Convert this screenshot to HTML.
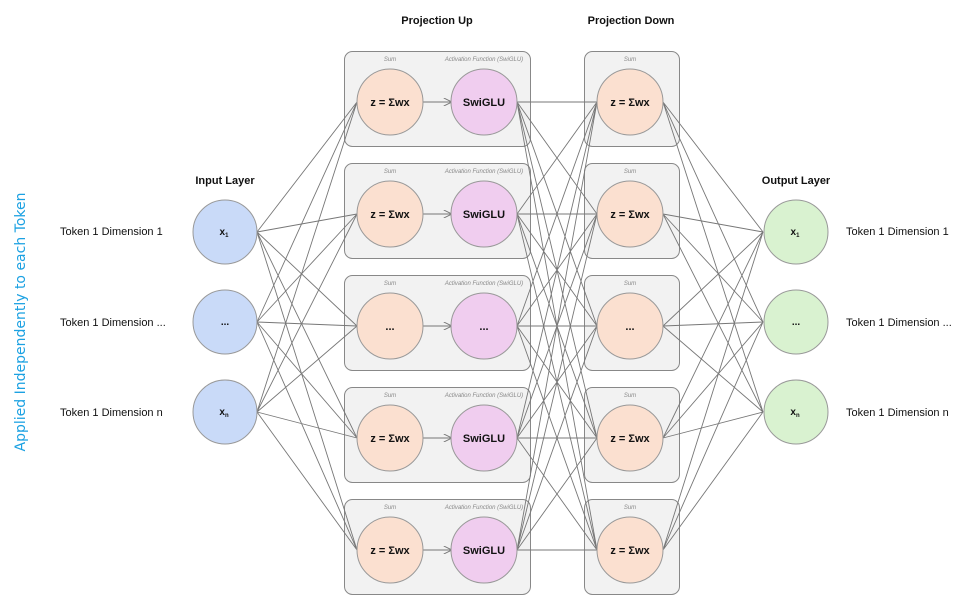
<!DOCTYPE html>
<html><head><meta charset="utf-8"><style>
html,body{margin:0;padding:0;background:#fff;}
svg text{font-family:"Liberation Sans",sans-serif;}
</style></head><body>
<svg width="978" height="603" viewBox="0 0 978 603" xmlns="http://www.w3.org/2000/svg">
<defs>
<marker id="ar" viewBox="0 0 10 10" refX="9" refY="5" markerWidth="9" markerHeight="9" orient="auto"><path d="M0,0 L10,5 L0,10" fill="none" stroke="#777" stroke-width="1.2"/></marker>
<g id="upbox">
<rect x="344.5" y="0.5" width="186" height="95" rx="8" fill="#f2f2f2" stroke="#888"/>
<text x="390" y="10" font-size="6" font-style="italic" fill="#888" text-anchor="middle">Sum</text>
<text x="484" y="10" font-size="6" font-style="italic" fill="#888" text-anchor="middle">Activation Function (SwiGLU)</text>
</g>
<g id="dnbox">
<rect x="584.5" y="0.5" width="95" height="95" rx="8" fill="#f2f2f2" stroke="#888"/>
<text x="630" y="10" font-size="6" font-style="italic" fill="#888" text-anchor="middle">Sum</text>
</g>
</defs>
<use href="#upbox" y="51"/><use href="#upbox" y="163"/><use href="#upbox" y="275"/><use href="#upbox" y="387"/><use href="#upbox" y="499"/>
<use href="#dnbox" y="51"/><use href="#dnbox" y="163"/><use href="#dnbox" y="275"/><use href="#dnbox" y="387"/><use href="#dnbox" y="499"/>
<g stroke="#777" stroke-width="0.9" fill="none">
<path d="M257 232L357 102M257 232L357 214M257 232L357 326M257 232L357 438M257 232L357 550
M257 322L357 102M257 322L357 214M257 322L357 326M257 322L357 438M257 322L357 550
M257 412L357 102M257 412L357 214M257 412L357 326M257 412L357 438M257 412L357 550"/>
<path d="M517 102L597 102M517 102L597 214M517 102L597 326M517 102L597 438M517 102L597 550
M517 214L597 102M517 214L597 214M517 214L597 326M517 214L597 438M517 214L597 550
M517 326L597 102M517 326L597 214M517 326L597 326M517 326L597 438M517 326L597 550
M517 438L597 102M517 438L597 214M517 438L597 326M517 438L597 438M517 438L597 550
M517 550L597 102M517 550L597 214M517 550L597 326M517 550L597 438M517 550L597 550"/>
<path d="M663 102L763 232M663 102L763 322M663 102L763 412
M663 214L763 232M663 214L763 322M663 214L763 412
M663 326L763 232M663 326L763 322M663 326L763 412
M663 438L763 232M663 438L763 322M663 438L763 412
M663 550L763 232M663 550L763 322M663 550L763 412"/>
<path marker-end="url(#ar)" d="M423 102L451 102"/>
<path marker-end="url(#ar)" d="M423 214L451 214"/>
<path marker-end="url(#ar)" d="M423 326L451 326"/>
<path marker-end="url(#ar)" d="M423 438L451 438"/>
<path marker-end="url(#ar)" d="M423 550L451 550"/>
</g>
<g stroke="#999" stroke-width="1">
<circle cx="225" cy="232" r="32" fill="#c9daf8"/><circle cx="225" cy="322" r="32" fill="#c9daf8"/><circle cx="225" cy="412" r="32" fill="#c9daf8"/>
<circle cx="796" cy="232" r="32" fill="#d9f2d0"/><circle cx="796" cy="322" r="32" fill="#d9f2d0"/><circle cx="796" cy="412" r="32" fill="#d9f2d0"/>
<circle cx="390" cy="102" r="33" fill="#fbe0d0"/><circle cx="390" cy="214" r="33" fill="#fbe0d0"/><circle cx="390" cy="326" r="33" fill="#fbe0d0"/><circle cx="390" cy="438" r="33" fill="#fbe0d0"/><circle cx="390" cy="550" r="33" fill="#fbe0d0"/>
<circle cx="484" cy="102" r="33" fill="#f0cdef"/><circle cx="484" cy="214" r="33" fill="#f0cdef"/><circle cx="484" cy="326" r="33" fill="#f0cdef"/><circle cx="484" cy="438" r="33" fill="#f0cdef"/><circle cx="484" cy="550" r="33" fill="#f0cdef"/>
<circle cx="630" cy="102" r="33" fill="#fbe0d0"/><circle cx="630" cy="214" r="33" fill="#fbe0d0"/><circle cx="630" cy="326" r="33" fill="#fbe0d0"/><circle cx="630" cy="438" r="33" fill="#fbe0d0"/><circle cx="630" cy="550" r="33" fill="#fbe0d0"/>
</g>
<g font-size="11" font-weight="bold" fill="#111" text-anchor="middle">
<text x="437" y="24">Projection Up</text>
<text x="631" y="24">Projection Down</text>
<text x="225" y="184">Input Layer</text>
<text x="796" y="184">Output Layer</text>
<text x="390" y="106">z = Σwx</text><text x="390" y="218">z = Σwx</text><text x="390" y="330">...</text><text x="390" y="442">z = Σwx</text><text x="390" y="554">z = Σwx</text>
<text x="484" y="106">SwiGLU</text><text x="484" y="218">SwiGLU</text><text x="484" y="330">...</text><text x="484" y="442">SwiGLU</text><text x="484" y="554">SwiGLU</text>
<text x="630" y="106">z = Σwx</text><text x="630" y="218">z = Σwx</text><text x="630" y="330">...</text><text x="630" y="442">z = Σwx</text><text x="630" y="554">z = Σwx</text>
</g>
<g font-size="10" font-weight="bold" fill="#111" text-anchor="middle">
<text x="224" y="235">x<tspan font-size="6" dy="2">1</tspan></text>
<text x="225" y="325">...</text>
<text x="224" y="415">x<tspan font-size="6" dy="2">n</tspan></text>
<text x="795" y="235">x<tspan font-size="6" dy="2">1</tspan></text>
<text x="796" y="325">...</text>
<text x="795" y="415">x<tspan font-size="6" dy="2">n</tspan></text>
</g>
<g font-size="11" fill="#111">
<text x="60" y="235">Token 1 Dimension 1</text>
<text x="60" y="326">Token 1 Dimension ...</text>
<text x="60" y="416">Token 1 Dimension n</text>
<text x="846" y="235">Token 1 Dimension 1</text>
<text x="846" y="326">Token 1 Dimension ...</text>
<text x="846" y="416">Token 1 Dimension n</text>
</g>
<text transform="translate(25,322) rotate(-90)" text-anchor="middle" font-size="14" fill="#1ba1e2" style="font-family:'Comic Sans MS','DejaVu Sans',sans-serif">Applied Independently to each Token</text>
</svg>
</body></html>
